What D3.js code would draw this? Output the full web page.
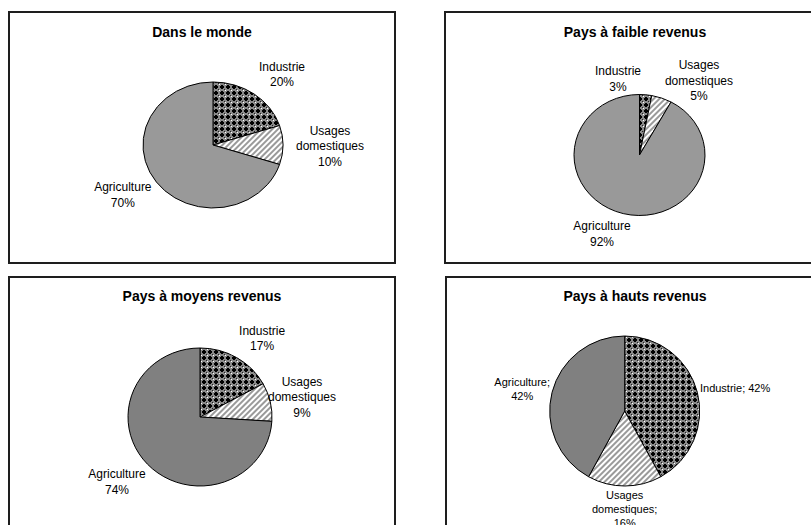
<!DOCTYPE html>
<html>
<head>
<meta charset="utf-8">
<script src="https://cdn.jsdelivr.net/npm/d3@7"></script>
<style>
  html, body { margin: 0; padding: 0; background: #fff; overflow: hidden; }
  svg { display: block; }
  text { font-family: "Liberation Sans", Arial, sans-serif; fill: #000; }
</style>
</head>
<body>
<svg id="chart" width="811" height="525"></svg>
<script>
// ---- data ----
const titles = ["Dans le monde", "Pays à faible revenus", "Pays à moyens revenus", "Pays à hauts revenus"];
const categories = ["Industrie", "Usages domestiques", "Agriculture"];
const monde = [20, 10, 70];
const faible = [3, 5, 92];
const moyens = [17, 9, 74];
const hauts = [42, 16, 42];
const seriesList = [monde, faible, moyens, hauts];
const labelSeparator = ["", "", "", ";"];
const inlineLabel = [[false, false, false], [false, false, false], [false, false, false], [true, false, false]];

// ---- layout (positions / styles) ----
const W = 811, H = 525;
const panelW = 386, panelH = 251;
const panels = [
  { x: 9, y: 12, titleX: 193, titleY: 25, cx: 204, cy: 133, rx: 70, ry: 63, fs: 12, lh: 15.5, agri: "#999999" },
  { x: 445, y: 12, titleX: 190, titleY: 25, cx: 194.5, cy: 143, rx: 65.5, ry: 60.5, fs: 12, lh: 15.5, agri: "#999999" },
  { x: 9, y: 277, titleX: 193, titleY: 24, cx: 191, cy: 140, rx: 72, ry: 69, fs: 12, lh: 15.5, agri: "#808080" },
  { x: 446, y: 277, titleX: 189, titleY: 24, cx: 178.7, cy: 134, rx: 75, ry: 75, fs: 11, lh: 14, agri: "#808080" }
];
const labelPush = 1.12;
const labelNudge = [
  [[9.4, -2.5], [4.6, 1], [-3.5, 0]],
  [[-30.6, 4.9], [23.1, 9.6], [-12.1, -0.3]],
  [[9.3, -0.6], [-9.9, 1.5], [-3.3, 2.4]],
  [[-5, -1], [0, -5.5], [5.8, 2.2]]
];

const svg = d3.select("#chart");
svg.append("rect").attr("width", W).attr("height", H).attr("fill", "#fff");

// patterns
const defs = svg.append("defs");
const pInd = defs.append("pattern").attr("id", "patInd")
  .attr("patternUnits", "userSpaceOnUse").attr("width", 6).attr("height", 6);
pInd.append("rect").attr("width", 6).attr("height", 6).attr("fill", "#8a8a8a");
pInd.append("rect").attr("x", 1).attr("y", 2).attr("width", 4).attr("height", 2).attr("fill", "#000");
pInd.append("rect").attr("x", 2).attr("y", 1).attr("width", 2).attr("height", 4).attr("fill", "#000");
pInd.append("rect").attr("x", 0).attr("y", 0).attr("width", 1).attr("height", 1).attr("fill", "#fff");
pInd.append("rect").attr("x", 5).attr("y", 5).attr("width", 1).attr("height", 1).attr("fill", "#222");

const pUs = defs.append("pattern").attr("id", "patUs")
  .attr("patternUnits", "userSpaceOnUse").attr("width", 4).attr("height", 4)
  .attr("patternTransform", "rotate(45)");
pUs.append("rect").attr("width", 4).attr("height", 4).attr("fill", "#fff");
pUs.append("rect").attr("width", 2).attr("height", 4).attr("fill", "#9a9a9a");

const pie = d3.pie().sort(null).value(d => d);

function wedgePath(cx, cy, rx, ry, s, e) {
  const p = a => [cx + rx * Math.sin(a), cy - ry * Math.cos(a)];
  const [x0, y0] = p(s), [x1, y1] = p(e);
  const large = (e - s) > Math.PI ? 1 : 0;
  const path = d3.path();
  path.moveTo(cx, cy);
  path.lineTo(x0, y0);
  return path.toString() + `A${rx},${ry},0,${large},1,${x1},${y1}Z`;
}

function labelLines(ci, catIdx, value) {
  const sep = labelSeparator[ci];
  const pct = value + "%";
  const words = categories[catIdx].split(" ");
  if (sep) words[words.length - 1] += sep;
  if (inlineLabel[ci][catIdx]) return [words.join(" ") + " " + pct];
  return words.concat([pct]);
}

panels.forEach((P, ci) => {
  const g = svg.append("g").attr("transform", `translate(${P.x},${P.y})`);
  g.append("rect").attr("width", panelW).attr("height", panelH)
    .attr("fill", "#fff").attr("stroke", "#1e1e1e").attr("stroke-width", 2);
  g.append("text").attr("x", P.titleX).attr("y", P.titleY)
    .attr("text-anchor", "middle").attr("font-weight", "bold")
    .attr("font-size", 14).text(titles[ci]);

  const fills = ["url(#patInd)", "url(#patUs)", P.agri];
  const arcs = pie(seriesList[ci]);
  g.selectAll("path.slice").data(arcs).join("path")
    .attr("class", "slice")
    .attr("d", d => wedgePath(P.cx, P.cy, P.rx, P.ry, d.startAngle, d.endAngle))
    .attr("fill", (d, i) => fills[i])
    .attr("stroke", "#000").attr("stroke-width", 1)
    .attr("stroke-linejoin", "round");

  arcs.forEach((d, i) => {
    const lines = labelLines(ci, i, d.data);
    const t = g.append("text").attr("text-anchor", "middle").attr("font-size", P.fs);
    const spans = lines.map(l => t.append("tspan").text(l));
    const w = d3.max(spans, s => s.node().getComputedTextLength());
    const n = lines.length;
    const h = (n - 1) * P.lh + P.fs;
    const a = (d.startAngle + d.endAngle) / 2;
    const px = P.cx + P.rx * labelPush * Math.sin(a);
    const py = P.cy - P.ry * labelPush * Math.cos(a);
    const xc = px + Math.sin(a) * w / 2 + labelNudge[ci][i][0];
    const yc = py - Math.cos(a) * h / 2 + labelNudge[ci][i][1];
    spans.forEach((s, k) => {
      s.attr("x", xc).attr("y", yc + (k - (n - 1) / 2) * P.lh + 0.36 * P.fs);
    });
  });
});
</script>
</body>
</html>
